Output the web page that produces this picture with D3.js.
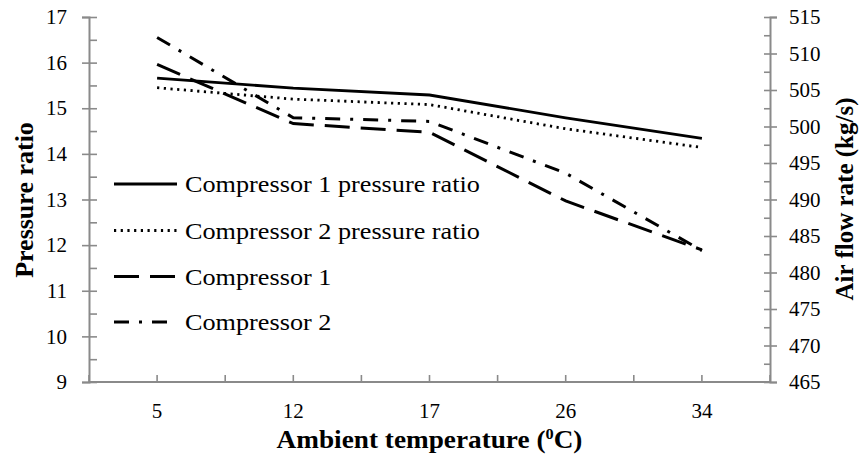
<!DOCTYPE html>
<html>
<head>
<meta charset="utf-8">
<script src="https://cdn.jsdelivr.net/npm/d3@7"></script>
</head>
<body style="margin:0;background:#fff">
<div id="vis"></div>
<script>
var width = 861,
	height = 455;

// data
var temps = ["5", "12", "17", "26", "34"];
var prComp1 = [15.66, 15.44, 15.29, 14.79, 14.34];
var prComp2 = [15.45, 15.20, 15.08, 14.55, 14.14];
var flowComp1 = [508.5, 500.4, 499.2, 489.8, 483.1];
var flowComp2 = [512.2, 501.2, 500.7, 493.6, 483.0];
var leftTicks = [9, 10, 11, 12, 13, 14, 15, 16, 17];
var rightTicks = [465, 470, 475, 480, 485, 490, 495, 500, 505, 510, 515];

var plotL = 89, plotR = 770, plotT = 17, plotB = 382;
var axisColor = "#8a8a8a";
var serif = "'Liberation Serif', 'Times New Roman', 'DejaVu Serif', serif";

var x = d3.scaleBand().domain(temps).range([plotL, plotR]).padding(0);
var yL = d3.scaleLinear().domain([9, 17]).range([plotB, plotT]);
var yR = d3.scaleLinear().domain([465, 515]).range([plotB, plotT]);

var cx = function(d) { return x(d) + x.bandwidth() / 2; };

var svg = d3.select("#vis")
	.append("svg")
	.attr("width", width)
	.attr("height", height)
	.style("display", "block");

// left axis
var gL = svg.append("g")
	.attr("transform", "translate(" + plotL + ",0)")
	.call(d3.axisLeft(yL).tickValues(leftTicks).tickSize(7).tickPadding(15));
gL.selectAll(".tick line").attr("x2", -7).attr("x1", 8);
gL.append("g").call(d3.axisRight(yL).tickValues(d3.range(9.5, 17, 1)).tickSize(8).tickFormat(""));

// right axis
var gR = svg.append("g")
	.attr("transform", "translate(" + plotR + ",0)")
	.call(d3.axisRight(yR).tickValues(rightTicks).tickSize(7).tickPadding(12));
gR.selectAll(".tick line").attr("x2", 7).attr("x1", -6);
gR.append("g").call(d3.axisLeft(yR).tickValues(d3.range(467.5, 515, 5)).tickSize(6).tickFormat(""));

// bottom axis, ticks at band edges and centres
var halfTicks = [];
temps.forEach(function(t) { halfTicks.push(x(t)); halfTicks.push(cx(t)); });
halfTicks.push(plotR);
var gB = svg.append("g")
	.attr("transform", "translate(0," + plotB + ")");
gB.append("line").attr("x1", plotL).attr("x2", plotR).attr("y1", 0).attr("y2", 0);
gB.selectAll("line.tk")
	.data(halfTicks)
	.enter()
	.append("line")
	.attr("class", "tk")
	.attr("x1", function(d) { return d; })
	.attr("x2", function(d) { return d; })
	.attr("y1", 0)
	.attr("y2", -7);
gB.selectAll("text")
	.data(temps)
	.enter()
	.append("text")
	.attr("x", cx)
	.attr("y", 36)
	.attr("text-anchor", "middle")
	.text(function(d) { return d; });

[gL, gR, gB].forEach(function(g) {
	g.selectAll("path.domain").attr("stroke", axisColor).attr("stroke-width", 2);
	g.selectAll("line").attr("stroke", axisColor).attr("stroke-width", 1.6);
	g.selectAll("path.domain").filter(function() { return this.parentNode !== g.node(); }).remove();
	g.selectAll("text").attr("fill", "#000");
});
gB.select("line").attr("stroke-width", 2);

// series
var series = [
	{ name: "Compressor 1 pressure ratio", values: prComp1, y: yL, dash: null, w: 2.8 },
	{ name: "Compressor 2 pressure ratio", values: prComp2, y: yL, dash: "2.2,4.5", w: 2.8 },
	{ name: "Compressor 1", values: flowComp1, y: yR, dash: "25,11", w: 3 },
	{ name: "Compressor 2", values: flowComp2, y: yR, dash: "15,10,3,10", w: 3 }
];

series.forEach(function(s) {
	var line = d3.line()
		.x(function(d, i) { return cx(temps[i]); })
		.y(function(d) { return s.y(d); });
	svg.append("path")
		.datum(s.values)
		.attr("d", line)
		.attr("fill", "none")
		.attr("stroke", "#000")
		.attr("stroke-width", s.w)
		.attr("stroke-dasharray", s.dash);
});

// the source picture is a bit stretched sideways, widen text to match
function widen(sel, k) {
	sel.each(function() {
		var w = this.getComputedTextLength();
		d3.select(this).attr("textLength", w * k).attr("lengthAdjust", "spacingAndGlyphs");
	});
}

// legend
var legendY = [184, 230.5, 276.5, 322];
var leg = svg.append("g");
series.forEach(function(s, i) {
	leg.append("line")
		.attr("x1", 114)
		.attr("x2", 177)
		.attr("y1", legendY[i])
		.attr("y2", legendY[i])
		.attr("stroke", "#000")
		.attr("stroke-width", s.w)
		.attr("stroke-dasharray", s.dash);
	leg.append("text")
		.attr("x", 185)
		.attr("y", legendY[i])
		.attr("dy", "0.36em")
		.style("font-size", "23px")
		.style("font-family", serif)
		.text(s.name);
});
widen(leg.selectAll("text"), 1.14);

// axis titles
svg.append("text")
	.attr("transform", "translate(33,200) rotate(-90)")
	.attr("text-anchor", "middle")
	.style("font-size", "26px")
	.style("font-weight", "bold")
	.text("Pressure ratio");

svg.append("text")
	.attr("transform", "translate(853,199) rotate(-90)")
	.attr("text-anchor", "middle")
	.style("font-size", "25px")
	.style("font-weight", "bold")
	.text("Air flow rate (kg/s)");

var xt = svg.append("text")
	.attr("x", (plotL + plotR) / 2)
	.attr("y", 448)
	.attr("text-anchor", "middle")
	.style("font-size", "25px")
	.style("font-family", serif)
	.style("font-weight", "bold");
xt.append("tspan").text("Ambient temperature (");
xt.append("tspan").attr("dy", -9).style("font-size", "15px").text("0");
xt.append("tspan").attr("dy", 9).text("C)");

// one serif face for all text, tick labels a bit larger
svg.selectAll("text").style("font-family", serif).attr("font-family", null);
svg.selectAll(".tick text").style("font-size", "21px");
gB.selectAll("text").style("font-size", "21px");
xt.selectAll("tspan").each(function() {
	var t = d3.select(this);
	t.attr("textLength", this.getComputedTextLength() * 1.09).attr("lengthAdjust", "spacingAndGlyphs");
});
</script>
</body>
</html>
